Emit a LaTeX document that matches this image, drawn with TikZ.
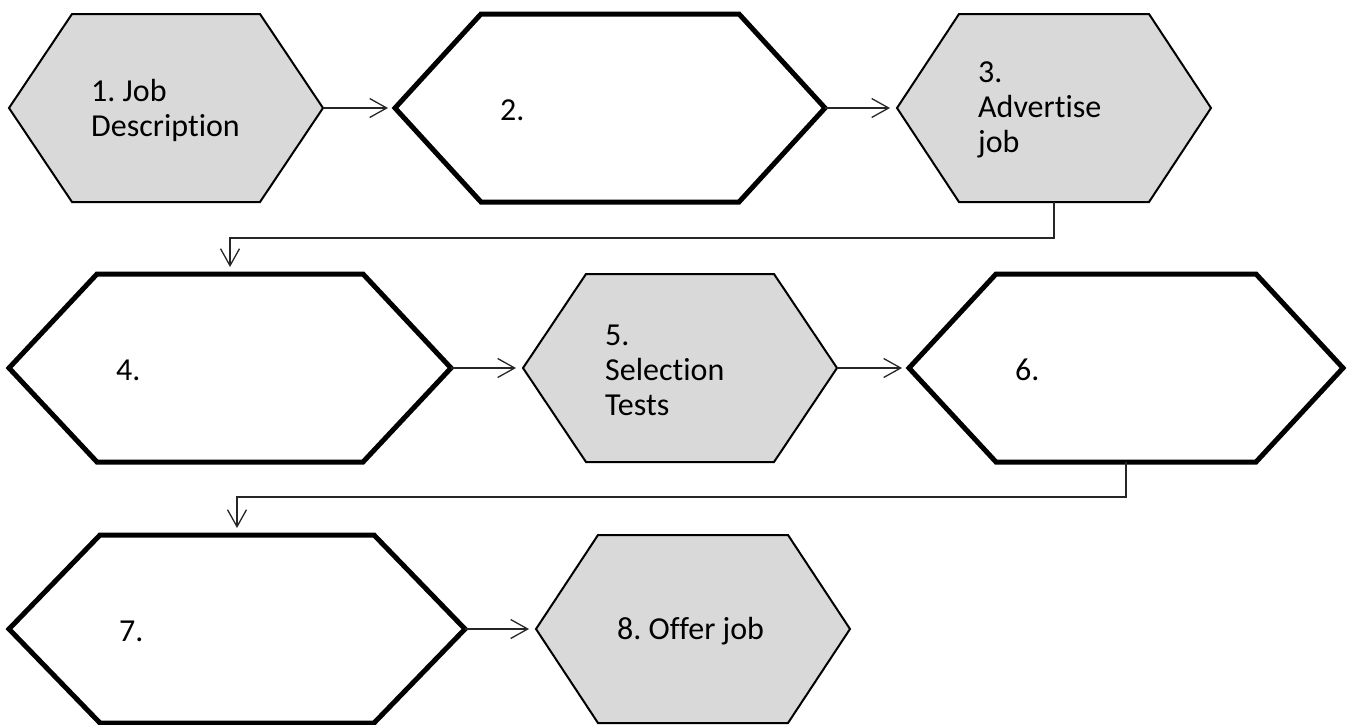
\documentclass[tikz,border=0pt]{standalone}
\usepackage{fontspec}
\setmainfont[Ligatures=NoCommon]{Carlito}
\usetikzlibrary{arrows.meta}

\definecolor{boxgray}{HTML}{D9D9D9}

\tikzset{
  graystep/.style={draw, fill=boxgray, line width=2pt},
  boldstep/.style={draw, fill=white, line width=5pt},
  steptext/.style={anchor=west, align=left, inner sep=0pt,
    font=\fontsize{32}{35}\selectfont},
  flow/.style={draw=black!85, line width=1.3pt, shorten >=7pt,
    -{Straight Barb[length=17pt, width=19pt]}}
}

% #1 name, #2 left x, #3 right x, #4 centre y, #5 point depth, #6 look, #7 text
\newcommand{\hexstep}[7]{%
  \draw[#6] (#2,#4) -- (#2+#5,#4-94) -- (#3-#5,#4-94) -- (#3,#4)
    -- (#3-#5,#4+94) -- (#2+#5,#4+94) -- cycle;
  \node[minimum width={(#3-#2)*1pt}, minimum height=188pt, inner sep=0pt, outer sep=0pt,
    label={[steptext, xshift=#5+19, yshift=-2]west:{#7}}] (#1) at ({(#2+#3)/2},#4) {};
}

\begin{document}
\begin{tikzpicture}[x=1pt, y=-1pt]
	\useasboundingbox (0,0) rectangle (1350,724);

	\hexstep{h1}{9}{323}{108}{63}{graystep}{1.~Job\\Description}
	\hexstep{h2}{395}{825}{108}{86}{boldstep}{2.}
	\hexstep{h3}{897}{1211}{108}{62}{graystep}{3.\\Advertise\\job}

	\hexstep{h4}{9}{451}{368}{88}{boldstep}{4.}
	\hexstep{h5}{523}{837}{368}{63}{graystep}{5.\\Selection\\Tests}
	\hexstep{h6}{909}{1343}{368}{87}{boldstep}{6.}

	\hexstep{h7}{9}{465}{629}{91}{boldstep}{7.}
	\hexstep{h8}{536}{850}{629}{62}{graystep}{8.~Offer~job}

	\draw[flow] (h1.east) -- (h2.west);
	\draw[flow] (h2.east) -- (h3.west);
	\draw[flow] (h3.south) -- ++(0,36) -| (h4.north);
	\draw[flow] (h4.east) -- (h5.west);
	\draw[flow] (h5.east) -- (h6.west);
	\draw[flow] (h6.south) -- ++(0,35) -| (h7.north);
	\draw[flow] (h7.east) -- (h8.west);
\end{tikzpicture}
\end{document}
